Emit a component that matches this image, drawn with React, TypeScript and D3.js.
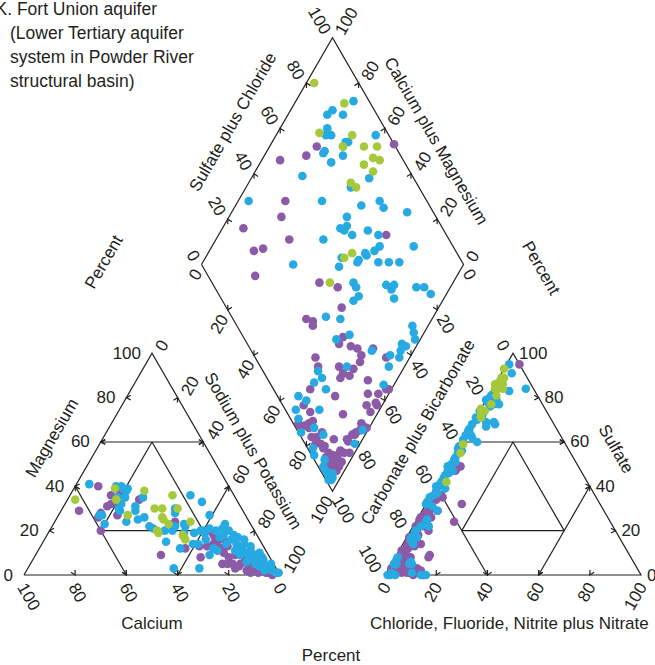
import React from "react";
import * as d3 from "d3";

type Pt = [number, number];

// ---------- chart text ----------
const titleLines = [
  "K. Fort Union aquifer",
  "(Lower Tertiary aquifer",
  "system in Powder River",
  "structural basin)",
];
const tickValues = [0, 20, 40, 60, 80, 100];
const markerValues = [20, 40, 60, 80];

// ---------- sample data (percent of milliequivalents) ----------
// Cations: [calcium, magnesium]; sodium plus potassium is the remainder
const cationPurple: Pt[] = [
  [51, 40], [64, 29], [48, 36], [44, 37], [50, 32], [52, 31], [38, 34], [50, 27], [56, 28], [58, 26],
  [60, 20], [29, 24], [31, 12], [42, 9], [27, 8], [47, 32],
  [17, 19], [17, 17], [17, 15], [14, 16], [14, 13], [17, 10], [16, 8], [13, 9], [13, 5], [10, 7],
  [10, 5], [8, 3], [6, 2], [5, 1], [4, 1], [12, 2], [14, 4], [16, 5], [10, 2], [8, 1], [20, 5],
  [19, 14], [22, 13], [6, 4], [1, 1], [11, 1], [16, 3], [18, 5], [17, 12], [25, 13], [3, 0], [3, 1],
];
const cationBlue: Pt[] = [
  [54, 41], [44, 40], [42, 39], [42, 40], [41, 38], [40, 39], [46, 35], [43, 35], [46, 32], [36, 35],
  [48, 30], [48, 29], [56, 27], [57, 27], [57, 23], [48, 24], [43, 25], [41, 31], [42, 29], [40, 26],
  [17, 36], [14, 33], [26, 30], [27, 28], [40, 22], [39, 21], [35, 20], [30, 22], [32, 20], [26, 23],
  [26, 22], [28, 19], [24, 19], [21, 20], [14, 27], [37, 15], [33, 12], [40, 3], [27, 14], [25, 14],
  [30, 3], [20, 20], [20, 19], [17, 21], [15, 20], [15, 17], [13, 18], [10, 20], [11, 16], [10, 14],
  [9, 12], [8, 10], [8, 8], [7, 7], [5, 6], [4, 5], [3, 4], [2, 3], [2, 2], [1, 1], [0, 1], [5, 2],
  [6, 4], [7, 5], [10, 6], [11, 9], [12, 11], [14, 14], [19, 11], [7, 14], [6, 11], [5, 9], [3, 8],
  [20, 12], [23, 9], [21, 16], [12, 21], [9, 18], [8, 17], [6, 16], [5, 13], [3, 10], [3, 7], [1, 5],
  [10, 23],
];
const cationGreen: Pt[] = [
  [63, 34], [45, 39], [47, 34], [34, 38], [46, 27], [34, 30], [31, 30], [24, 36], [25, 30], [32, 23],
  [33, 26], [33, 25], [38, 20], [38, 19], [23, 24], [29, 18], [29, 17], [29, 16],
];

// Anions: [chloride + fluoride + nitrite + nitrate, sulfate]; carbonate plus bicarbonate is the remainder
const anionPurple: Pt[] = [
  [5, 95], [4, 48], [5, 35], [14, 32], [15, 24], [2, 34], [6, 29], [3, 29], [2, 27], [5, 26],
  [2, 24], [2, 23], [4, 22], [7, 20], [2, 20], [3, 18], [4, 15], [2, 14], [7, 14], [3, 10],
  [2, 9], [5, 8], [6, 8], [13, 9], [3, 5], [6, 4], [9, 3], [11, 3], [13, 2], [8, 1], [6, 1], [3, 1],
  [13, 1], [15, 0], [11, 0], [5, 49], [4, 47], [4, 36], [3, 34], [2, 28], [1, 25], [1, 22], [6, 22],
  [13, 8], [4, 16], [2, 13], [2, 10], [2, 30], [3, 27], [1, 26], [4, 25], [2, 21], [3, 19], [1, 17],
  [4, 18], [2, 15], [3, 12], [1, 11], [5, 13], [2, 6], [4, 7], [1, 3], [5, 2], [7, 3], [9, 1],
  [12, 2], [4, 1],
];
const anionBlue: Pt[] = [
  [1, 95], [13, 84], [7, 83], [0, 79], [1, 80], [4, 77], [6, 77], [5, 69], [8, 69], [9, 68],
  [0, 71], [0, 68], [0, 63], [0, 61], [0, 65], [3, 62], [6, 60], [0, 57], [1, 53], [1, 50],
  [1, 47], [1, 45], [1, 42], [1, 41], [4, 39], [1, 38], [0, 33], [0, 32], [3, 31], [2, 20],
  [2, 17], [4, 17], [4, 14], [4, 25], [6, 22], [4, 24], [1, 0], [2, 1], [2, 5], [1, 8], [8, 5],
  [7, 6], [16, 0], [2, 0], [4, 0], [14, 0], [4, 91], [6, 67], [6, 29], [1, 32], [3, 22],
  [2, 19], [2, 16], [1, 7], [1, 5], [7, 5], [10, 1], [0, 66], [1, 64], [0, 58], [2, 56], [1, 52],
  [0, 49], [2, 46], [1, 44], [0, 40], [2, 37], [1, 36], [0, 35], [3, 47], [2, 51], [1, 55], [2, 63],
  [1, 70], [2, 72], [0, 74], [3, 76], [1, 78], [2, 80], [4, 79], [1, 81],
];
const anionGreen: Pt[] = [
  [0, 93], [1, 89], [2, 89], [1, 87], [3, 86], [1, 84], [3, 81], [2, 84], [3, 77], [0, 75],
  [1, 73], [2, 74], [2, 71], [1, 59], [2, 55], [3, 42], [2, 88], [4, 84], [0, 86],
];

// Diamond: [sodium plus potassium, sulfate plus chloride]
const diamondPurple: Pt[] = [
  [18, 70], [47, 100], [16, 64], [7, 53], [18, 46], [20, 41], [8, 24], [64, 77], [28, 39], [20, 27],
  [17, 23], [23, 18], [49, 41], [57, 47], [63, 44], [52, 28], [55, 30], [56, 29], [70, 38], [70, 35],
  [75, 39], [78, 41], [84, 47], [81, 41], [64, 23], [82, 39], [91, 50], [75, 30], [81, 35], [67, 22],
  [78, 30], [78, 28], [81, 32], [89, 38], [69, 14], [98, 43], [99, 44], [92, 35], [96, 39], [80, 22],
  [70, 8], [74, 9], [87, 21], [77, 8], [75, 4], [73, 2], [72, 2], [76, 6], [77, 5], [89, 12],
  [94, 32], [97, 36], [98, 36], [97, 32], [96, 26], [99, 27], [97, 24], [97, 26], [96, 22], [95, 20],
  [96, 21], [80, 4], [82, 6], [83, 9], [94, 17], [95, 17], [85, 6], [87, 7], [83, 4], [87, 6],
  [90, 7], [92, 8], [94, 10], [92, 6], [90, 5], [98, 15], [94, 12], [96, 13], [95, 8], [97, 10],
  [97, 8], [96, 6], [94, 5], [92, 4], [94, 4], [97, 6],
];
const diamondBlue: Pt[] = [
  [22, 94], [16, 84], [15, 81], [21, 87], [18, 78], [19, 77], [19, 76], [21, 78], [38, 95], [29, 83],
  [28, 82], [28, 80], [22, 72], [22, 71], [30, 78], [27, 72], [19, 58], [45, 83], [40, 74], [4, 32],
  [32, 60], [48, 74], [54, 82], [57, 82], [67, 90], [45, 66], [45, 61], [47, 62], [47, 64], [56, 71],
  [51, 64], [61, 74], [41, 52], [77, 85], [64, 72], [63, 69], [52, 55], [60, 65], [61, 65], [59, 61],
  [59, 60], [35, 35], [67, 68], [71, 72], [75, 76], [53, 52], [62, 54], [64, 54], [75, 66], [78, 69],
  [78, 67], [87, 77], [90, 80], [94, 81], [67, 53], [81, 66], [66, 50], [59, 36], [65, 41], [94, 67],
  [96, 66], [98, 65], [72, 41], [68, 35], [94, 59], [96, 60], [84, 46], [95, 57], [92, 52], [96, 55],
  [94, 49], [78, 33], [68, 21], [71, 21], [69, 17], [75, 20], [96, 43], [66, 8], [70, 10], [68, 4],
  [71, 3], [77, 13], [79, 7], [84, 9], [75, 1], [98, 25], [98, 19], [83, 2], [85, 1], [90, 4],
  [91, 2], [93, 2], [95, 3], [97, 3], [95, 2], [96, 4], [96, 1], [97, 2],
];
const diamondGreen: Pt[] = [
  [3, 83], [19, 90], [16, 74], [29, 86], [28, 80], [36, 88], [41, 93], [42, 89], [45, 91], [40, 84],
  [45, 86], [39, 75], [42, 76], [55, 60], [53, 56], [53, 45],
];

// ---------- layout ----------
const W = 655;
const H = 665;
const INK = "#231f20";
const COLORS = { purple: "#8c5ba7", blue: "#27aae1", green: "#a6c93b" };
const WORD_FONT = "'Liberation Sans', Arial, sans-serif";
const DIGIT_FONT = "'Liberation Sans Narrow', 'Arial Narrow', 'Liberation Sans', sans-serif";
const DOT_R = 4.3;

const SIDE = 256;
const ROOT3_2 = Math.sqrt(3) / 2;
const BASE_Y = 575;
const LEFT_X = 24;
const RIGHT_X = 385;
const DIA_SIDE = 262;
const DIA_CX = 332.5;
const DIA_CY = 264.5;

const frac = d3.scaleLinear().domain([0, 100]).range([0, 1]);

const add = (a: Pt, b: Pt): Pt => [a[0] + b[0], a[1] + b[1]];
const sub = (a: Pt, b: Pt): Pt => [a[0] - b[0], a[1] - b[1]];
const mul = (a: Pt, k: number): Pt => [a[0] * k, a[1] * k];
const lerp = (a: Pt, b: Pt, t: number): Pt => add(a, mul(sub(b, a), t));
const norm = (a: Pt): Pt => {
  const l = Math.hypot(a[0], a[1]);
  return [a[0] / l, a[1] / l];
};

// triangle vertices
const cBL: Pt = [LEFT_X, BASE_Y];
const cBR: Pt = [LEFT_X + SIDE, BASE_Y];
const cTop: Pt = [LEFT_X + SIDE / 2, BASE_Y - SIDE * ROOT3_2];
const aBL: Pt = [RIGHT_X, BASE_Y];
const aBR: Pt = [RIGHT_X + SIDE, BASE_Y];
const aTop: Pt = [RIGHT_X + SIDE / 2, BASE_Y - SIDE * ROOT3_2];
// diamond vertices
const dL: Pt = [DIA_CX - DIA_SIDE / 2, DIA_CY];
const dR: Pt = [DIA_CX + DIA_SIDE / 2, DIA_CY];
const dT: Pt = [DIA_CX, DIA_CY - DIA_SIDE * ROOT3_2];
const dB: Pt = [DIA_CX, DIA_CY + DIA_SIDE * ROOT3_2];

const bary = (w: [number, number, number], p: [Pt, Pt, Pt]): Pt => {
  const [a, b, c] = w.map((v) => frac(v));
  return [a * p[0][0] + b * p[1][0] + c * p[2][0], a * p[0][1] + b * p[1][1] + c * p[2][1]];
};
const cationPos = ([ca, mg]: Pt): Pt => bary([ca, 100 - ca - mg, mg], [cBL, cBR, cTop]);
const anionPos = ([cl, so4]: Pt): Pt => bary([100 - cl - so4, cl, so4], [aBL, aBR, aTop]);
const diamondPos = ([na, so4cl]: Pt): Pt =>
  add(add(dL, mul(sub(dB, dL), frac(na))), mul(sub(dT, dL), frac(so4cl)));

// internal subdivision lines (cations as [Ca, Mg], anions as [Cl, SO4]); flag = arrowheads at ends
const cationGrid: [Pt, Pt, boolean][] = [
  [[40, 60], [0, 60], true],
  [[60, 40], [60, 0], true],
  [[40, 0], [0, 40], true],
  [[60, 20], [20, 20], false],
  [[20, 60], [60, 20], false],
  [[20, 60], [20, 20], false],
];
const anionGrid: [Pt, Pt, boolean][] = [
  [[0, 60], [40, 60], true],
  [[0, 40], [40, 0], true],
  [[60, 0], [60, 40], true],
  [[20, 20], [60, 20], false],
  [[20, 60], [20, 20], false],
  [[20, 60], [60, 20], false],
];

// p0/p100: where the axis reads 0 and 100; dir: outward reading direction;
// gap: distance of label from edge; shift: offset of rotated labels across their baseline
type AxisSpec = { id: string; p0: Pt; p100: Pt; dir: Pt; gap: number; shift: number };
const S = ROOT3_2;
const axes: AxisSpec[] = [
  { id: "mg", p0: cBL, p100: cTop, dir: [-1, 0], gap: 11, shift: 0 },
  { id: "ca", p0: cBR, p100: cBL, dir: [0.5, S], gap: 7, shift: 7 },
  { id: "na", p0: cTop, p100: cBR, dir: [0.5, -S], gap: 7, shift: 5 },
  { id: "so4", p0: aBR, p100: aTop, dir: [1, 0], gap: 6, shift: 0 },
  { id: "cl", p0: aBL, p100: aBR, dir: [-0.5, S], gap: 7, shift: 6 },
  { id: "hco3", p0: aTop, p100: aBL, dir: [-0.5, -S], gap: 7, shift: 5 },
  { id: "dso4cl", p0: dL, p100: dT, dir: [-0.5, -S], gap: 7, shift: 3 },
  { id: "dcamg", p0: dR, p100: dT, dir: [0.5, -S], gap: 7, shift: 4 },
  { id: "dna", p0: dL, p100: dB, dir: [-0.5, S], gap: 7, shift: 0 },
  { id: "dhco3", p0: dR, p100: dB, dir: [0.5, S], gap: 7, shift: 0 },
];

const rotate = (v: Pt, deg: number): Pt => {
  const r = (deg * Math.PI) / 180;
  return [v[0] * Math.cos(r) - v[1] * Math.sin(r), v[0] * Math.sin(r) + v[1] * Math.cos(r)];
};
const arrowPath = (tip: Pt, dir: Pt, len = 5, spread = 28) => {
  const a = sub(tip, mul(rotate(dir, spread), len));
  const b = sub(tip, mul(rotate(dir, -spread), len));
  return `M${a[0]},${a[1]}L${tip[0]},${tip[1]}L${b[0]},${b[1]}`;
};

const axisTitles: { text: string; x: number; y: number; rot: number; anchor?: string }[] = [
  { text: "Magnesium", x: 52, y: 438, rot: -60 },
  { text: "Calcium", x: 152, y: 623, rot: 0 },
  { text: "Sodium plus Potassium", x: 253, y: 451, rot: 60 },
  { text: "Carbonate plus Bicarbonate", x: 418, y: 432, rot: -60 },
  { text: "Sulfate", x: 616, y: 449, rot: 60 },
  { text: "Chloride, Fluoride, Nitrite plus Nitrate", x: 370, y: 623, rot: 0, anchor: "start" },
  { text: "Sulfate plus Chloride", x: 233, y: 122, rot: -60 },
  { text: "Calcium plus Magnesium", x: 436, y: 141, rot: 60 },
  { text: "Percent", x: 104, y: 262, rot: -60 },
  { text: "Percent", x: 541, y: 268, rot: 60 },
  { text: "Percent", x: 331, y: 655, rot: 0 },
];

const groups: { key: keyof typeof COLORS; cat: Pt[]; an: Pt[]; dia: Pt[] }[] = [
  { key: "purple", cat: cationPurple, an: anionPurple, dia: diamondPurple },
  { key: "blue", cat: cationBlue, an: anionBlue, dia: diamondBlue },
  { key: "green", cat: cationGreen, an: anionGreen, dia: diamondGreen },
];

const line = d3.line<Pt>();

export default function App() {
  const outlines: Pt[][] = [
    [cBL, cBR, cTop, cBL],
    [aBL, aBR, aTop, aBL],
    [dL, dT, dR, dB, dL],
  ];

  const gridLines = [
    ...cationGrid.map(([a, b, arr]) => [cationPos(a), cationPos(b), arr] as [Pt, Pt, boolean]),
    ...anionGrid.map(([a, b, arr]) => [anionPos(a), anionPos(b), arr] as [Pt, Pt, boolean]),
  ];

  return (
    <div style={{ position: "absolute", left: 0, top: 0, width: W, height: H, background: "#fff" }}>
      <svg width={W} height={H} viewBox={`0 0 ${W} ${H}`} style={{ display: "block" }}>
        <rect width={W} height={H} fill="#fff" />
        {/* title */}
        <g fill={INK} fontFamily={WORD_FONT} fontSize={17.5}>
          {titleLines.map((t, i) => (
            <text key={i} x={i === 0 ? -4.5 : 10} y={15 + i * 24}>
              {t}
            </text>
          ))}
        </g>

        {/* outlines and subdivisions */}
        <g fill="none" stroke={INK} strokeWidth={1.2} strokeLinejoin="miter">
          {outlines.map((o, i) => (
            <path key={i} d={line(o) ?? ""} />
          ))}
          {gridLines.map(([a, b, arr], i) => (
            <g key={i}>
              <path d={line([a, b]) ?? ""} />
              {arr && <path d={arrowPath(b, norm(sub(b, a)))} />}
              {arr && <path d={arrowPath(a, norm(sub(a, b)))} />}
            </g>
          ))}
          {axes.map((ax) =>
            markerValues.map((v) => (
              <path key={ax.id + v} d={arrowPath(lerp(ax.p0, ax.p100, frac(v)), ax.dir)} />
            ))
          )}
        </g>

        {/* data points */}
        {groups.map((g) => (
          <g key={g.key} fill={COLORS[g.key]}>
            {g.cat.map((d, i) => {
              const [x, y] = cationPos(d);
              return <circle key={"c" + i} cx={x} cy={y} r={DOT_R} />;
            })}
            {g.an.map((d, i) => {
              const [x, y] = anionPos(d);
              return <circle key={"a" + i} cx={x} cy={y} r={DOT_R} />;
            })}
            {g.dia.map((d, i) => {
              const [x, y] = diamondPos(d);
              return <circle key={"d" + i} cx={x} cy={y} r={DOT_R} />;
            })}
          </g>
        ))}

        {/* tick labels */}
        <g fill={INK} fontFamily={DIGIT_FONT} fontSize={17}>
          {axes.map((ax) =>
            tickValues.map((v) => {
              const t = lerp(ax.p0, ax.p100, frac(v));
              const ang = (Math.atan2(ax.dir[1], ax.dir[0]) * 180) / Math.PI;
              const flip = Math.abs(ang) > 90.5;
              const rot = flip ? ang + 180 : ang;
              const r = (rot * Math.PI) / 180;
              const down: Pt = [-Math.sin(r), Math.cos(r)];
              const px = t[0] + ax.dir[0] * ax.gap + down[0] * ax.shift;
              const py = t[1] + ax.dir[1] * ax.gap + down[1] * ax.shift;
              return (
                <text
                  key={ax.id + v}
                  x={px}
                  y={py}
                  transform={`rotate(${rot} ${px} ${py})`}
                  textAnchor={flip ? "end" : "start"}
                  dominantBaseline="central"
                >
                  {v}
                </text>
              );
            })
          )}
        </g>

        {/* axis titles */}
        <g fill={INK} fontFamily={WORD_FONT} fontSize={17}>
          {axisTitles.map((t, i) => (
            <text
              key={i}
              x={t.x}
              y={t.y}
              transform={`rotate(${t.rot} ${t.x} ${t.y})`}
              textAnchor={t.anchor ?? "middle"}
              dominantBaseline="central"
            >
              {t.text}
            </text>
          ))}
        </g>
      </svg>
    </div>
  );
}
